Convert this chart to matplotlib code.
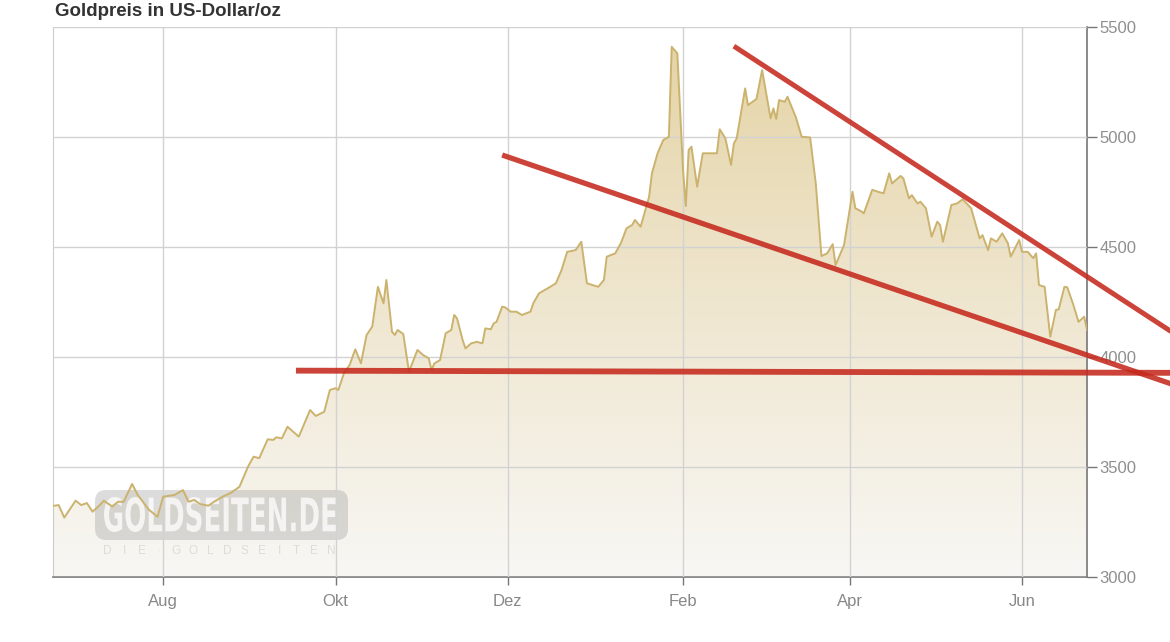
import matplotlib
matplotlib.use('Agg')
import matplotlib.pyplot as plt
import matplotlib.dates as mdates
from matplotlib.colors import LinearSegmentedColormap
from matplotlib.textpath import TextPath
from matplotlib.patches import PathPatch, FancyBboxPatch
from matplotlib.font_manager import FontProperties
from matplotlib.transforms import Affine2D, IdentityTransform
import numpy as np
import pandas as pd

# gold price, USD/oz
dates = [
    "2025-06-23", "2025-06-25", "2025-06-27", "2025-07-01", "2025-07-03", "2025-07-05",
    "2025-07-07", "2025-07-09", "2025-07-11", "2025-07-14", "2025-07-16", "2025-07-18",
    "2025-07-21", "2025-07-23", "2025-07-27", "2025-07-30", "2025-08-01", "2025-08-05",
    "2025-08-08", "2025-08-10", "2025-08-12", "2025-08-14", "2025-08-17", "2025-08-19",
    "2025-08-22", "2025-08-25", "2025-08-28", "2025-08-31", "2025-09-02", "2025-09-04",
    "2025-09-07", "2025-09-09", "2025-09-10", "2025-09-12", "2025-09-14", "2025-09-18",
    "2025-09-22", "2025-09-24", "2025-09-27", "2025-09-29", "2025-10-01", "2025-10-02",
    "2025-10-04", "2025-10-06", "2025-10-08", "2025-10-10", "2025-10-12", "2025-10-14",
    "2025-10-16", "2025-10-18", "2025-10-19", "2025-10-21", "2025-10-22", "2025-10-23",
    "2025-10-25", "2025-10-27", "2025-10-30", "2025-11-01", "2025-11-03", "2025-11-04",
    "2025-11-05", "2025-11-07", "2025-11-09", "2025-11-11", "2025-11-12", "2025-11-13",
    "2025-11-15", "2025-11-16", "2025-11-18", "2025-11-20", "2025-11-22", "2025-11-23",
    "2025-11-25", "2025-11-26", "2025-11-27", "2025-11-29", "2025-11-30", "2025-12-02",
    "2025-12-04", "2025-12-06", "2025-12-09", "2025-12-10", "2025-12-12", "2025-12-16",
    "2025-12-18", "2025-12-20", "2025-12-22", "2025-12-25", "2025-12-27", "2025-12-29",
    "2025-12-31", "2026-01-02", "2026-01-04", "2026-01-05", "2026-01-08", "2026-01-10",
    "2026-01-12", "2026-01-14", "2026-01-15", "2026-01-17", "2026-01-20", "2026-01-21",
    "2026-01-23", "2026-01-25", "2026-01-27", "2026-01-28", "2026-01-30", "2026-02-01",
    "2026-02-02", "2026-02-03", "2026-02-04", "2026-02-06", "2026-02-08", "2026-02-13",
    "2026-02-14", "2026-02-16", "2026-02-18", "2026-02-19", "2026-02-20", "2026-02-23",
    "2026-02-24", "2026-02-27", "2026-03-01", "2026-03-04", "2026-03-05", "2026-03-06",
    "2026-03-07", "2026-03-09", "2026-03-10", "2026-03-13", "2026-03-15", "2026-03-18",
    "2026-03-20", "2026-03-22", "2026-03-24", "2026-03-26", "2026-03-27", "2026-03-30",
    "2026-04-02", "2026-04-03", "2026-04-05", "2026-04-06", "2026-04-09", "2026-04-11",
    "2026-04-13", "2026-04-15", "2026-04-16", "2026-04-19", "2026-04-20", "2026-04-22",
    "2026-04-23", "2026-04-25", "2026-04-26", "2026-04-28", "2026-04-30", "2026-05-02",
    "2026-05-03", "2026-05-04", "2026-05-07", "2026-05-09", "2026-05-11", "2026-05-14",
    "2026-05-15", "2026-05-17", "2026-05-18", "2026-05-20", "2026-05-21", "2026-05-23",
    "2026-05-25", "2026-05-27", "2026-05-28", "2026-05-31", "2026-06-01", "2026-06-03",
    "2026-06-05", "2026-06-06", "2026-06-07", "2026-06-09", "2026-06-11", "2026-06-13",
    "2026-06-14", "2026-06-16", "2026-06-17", "2026-06-19", "2026-06-21", "2026-06-23",
    "2026-06-24",
]
prices = [
    3323, 3327, 3270, 3347, 3327, 3336,
    3297, 3320, 3347, 3320, 3342, 3342,
    3423, 3373, 3305, 3274, 3365, 3373,
    3395, 3342, 3350, 3332, 3324, 3342,
    3365, 3383, 3410, 3501, 3547, 3540,
    3626, 3623, 3635, 3630, 3683, 3638,
    3759, 3732, 3751, 3850, 3858, 3850,
    3927, 3964, 4035, 3971, 4100, 4138,
    4319, 4244, 4350, 4115, 4100, 4123,
    4104, 3933, 4032, 4009, 3994, 3941,
    3971, 3986, 4108, 4123, 4191, 4176,
    4077, 4039, 4062, 4069, 4062, 4130,
    4126, 4153, 4160, 4229, 4226, 4206,
    4206, 4191, 4206, 4244, 4289, 4319,
    4335, 4395, 4478, 4486, 4524, 4335,
    4327, 4319, 4350, 4456, 4471, 4517,
    4585, 4600, 4623, 4592, 4729, 4835,
    4926, 4986, 5001, 5410, 5380, 4850,
    4686, 4941, 4956, 4774, 4926, 4926,
    5035, 4994, 4873, 4971, 4994, 5221,
    5145, 5173, 5304, 5085, 5130, 5082,
    5168, 5160, 5183, 5088, 5001, 4998,
    4789, 4459, 4471, 4513, 4418, 4509,
    4751, 4676, 4663, 4653, 4760, 4751,
    4744, 4835, 4789, 4823, 4812, 4721,
    4736, 4698, 4706, 4676, 4547, 4615,
    4600, 4524, 4691, 4698, 4717, 4676,
    4630, 4539, 4554, 4486, 4539, 4524,
    4562, 4517, 4456, 4532, 4478, 4478,
    4449, 4471, 4327, 4319, 4092, 4214,
    4217, 4319, 4317, 4244, 4160, 4183,
    4123,
]

# hand-drawn trend lines
support_dates = ["2025-09-17", "2026-07-24"]
support_prices = [3938, 3928]
lower_dates = ["2025-11-29", "2026-07-24"]
lower_prices = [4918, 3877]
upper_dates = ["2026-02-19", "2026-07-24"]
upper_prices = [5413, 4114]

y_ticks = [3000, 3500, 4000, 4500, 5000, 5500]
month_labels = {8: "Aug", 10: "Okt", 12: "Dez", 2: "Feb", 4: "Apr", 6: "Jun"}

plt.rcParams['font.family'] = ['Liberation Sans', 'DejaVu Sans']

W, H = 1170, 642
x = mdates.date2num(pd.to_datetime(dates))
y = np.array(prices)

fig = plt.figure(figsize=(W / 100, H / 100), dpi=100)
ax = fig.add_axes([53 / W, 1 - 577 / H, 1034 / W, 550 / H])
ax.set_xlim(x[0], x[-1])
ax.set_ylim(3000, 5500)

# gradient area under the line
poly = ax.fill_between(x, y, 3000, color='none', lw=0)
cmap = LinearSegmentedColormap.from_list("gold", ["#f8f7f4", "#efe6cf", "#e4d3a4"])
grad = np.linspace(0, 1, 256).reshape(-1, 1)
im = ax.imshow(grad, extent=[x[0], x[-1], 3000, 5500], origin='lower',
               aspect='auto', cmap=cmap, zorder=1)
im.set_clip_path(poly.get_paths()[0], transform=ax.transData)
ax.plot(x, y, color='#cbb36e', lw=1.4, zorder=3)

# grid + axes styling
ax.set_axisbelow(False)
ax.grid(True, color='#d2d2d2', lw=1, zorder=2)
ax.set_yticks(y_ticks)
ax.yaxis.tick_right()
ax.xaxis.set_major_locator(mdates.MonthLocator(bymonth=list(month_labels.keys())))
ax.xaxis.set_major_formatter(plt.FuncFormatter(
    lambda v, pos: month_labels[mdates.num2date(v).month]))
ax.tick_params(axis='y', direction='out', length=7, width=1, color='#777777',
               labelcolor='#8f8f8f', labelsize=12, pad=2)
ax.tick_params(axis='x', direction='out', length=6, width=1, color='#777777',
               labelcolor='#888888', labelsize=12, pad=6)
ax.spines['top'].set_visible(False)
ax.spines['left'].set_color('#cccccc')
ax.spines['right'].set_color('#777777')
ax.spines['bottom'].set_color('#777777')
ax.spines['right'].set_linewidth(1.2)
ax.spines['bottom'].set_linewidth(1.2)

# watermark (pixel coords)
box = FancyBboxPatch((95, H - 540), 253, 50, boxstyle='round,pad=0,rounding_size=11',
                     transform=IdentityTransform(), fc='#8e8e8e', ec='none', alpha=0.3, zorder=2)
ax.add_patch(box)
tp = TextPath((0, 0), "GOLDSEITEN.DE", size=50,
              prop=FontProperties(family='DejaVu Sans', weight='bold'))
ext = tp.get_extents()
sx, sy = 232 / ext.width, 35 / ext.height
tr = Affine2D().translate(-ext.x0, -ext.y0).scale(sx, sy).translate(104, H - 532)
wm = PathPatch(tr.transform_path(tp), transform=IdentityTransform(), fc='white',
               ec='none', alpha=0.75, zorder=2)
ax.add_patch(wm)
for xc, ch in zip(np.linspace(107, 331, 14), "DIE·GOLDSEITEN"):
    ax.text(xc / W, 1 - 551 / H, ch, transform=fig.transFigure, ha='center', va='center',
            fontsize=8.5, color='#dcdcdc', zorder=2)

# trend lines
for d, p, lw in [(support_dates, support_prices, 4.2),
                 (lower_dates, lower_prices, 3.8),
                 (upper_dates, upper_prices, 3.6)]:
    ax.plot(mdates.date2num(pd.to_datetime(d)), p, color='#c5291d', lw=lw, alpha=0.88,
            solid_capstyle='butt', clip_on=False, zorder=6)

fig.text(55 / W, 1 - 11 / H, "Goldpreis in US-Dollar/oz", ha='left', va='center',
         fontsize=13.5, fontweight='bold', color='#333333')

fig.savefig('out.png', dpi=100, facecolor='white')
